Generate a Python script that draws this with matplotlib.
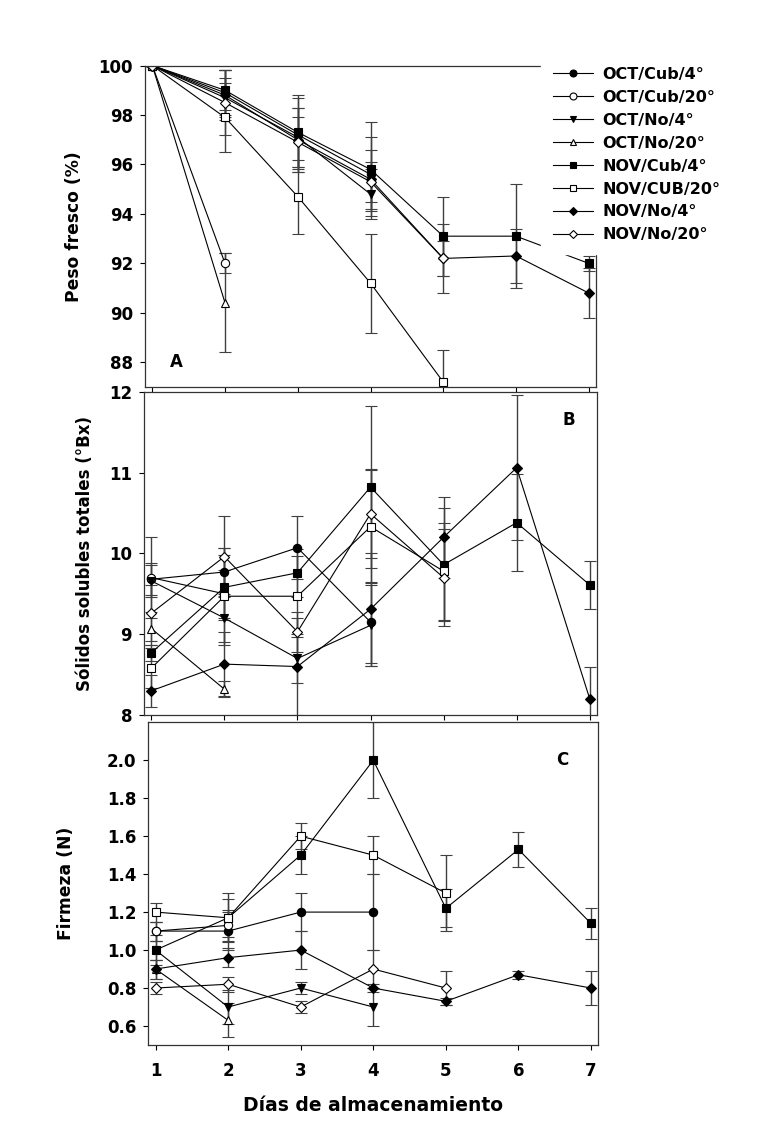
import numpy as np
import matplotlib
matplotlib.use('Agg')
import matplotlib.pyplot as plt
from matplotlib.lines import Line2D

plt.rcParams['font.family'] = ['DejaVu Sans']
plt.rcParams['font.weight'] = 'bold'

days = [1, 2, 3, 4, 5, 6, 7]
labels = ['OCT/Cub/4°', 'OCT/Cub/20°', 'OCT/No/4°', 'OCT/No/20°',
          'NOV/Cub/4°', 'NOV/CUB/20°', 'NOV/No/4°', 'NOV/No/20°']

# A: peso fresco (%)
peso = [
    [100, 98.9, 97.2, 95.6],
    [100, 92.0],
    [100, 98.7, 97.1, 94.8],
    [100, 90.4],
    [100, 99.0, 97.3, 95.8, 93.1, 93.1, 92.0],
    [100, 97.9, 94.7, 91.2, 87.2],
    [100, 98.8, 97.0, 95.4, 92.2, 92.3, 90.8],
    [100, 98.5, 96.9, 95.3, 92.2],
]
peso_err = [
    [0, 0.9, 1.5, 1.5],
    [0, 0.4],
    [0, 0.8, 1.2, 1.0],
    [0, 2.0],
    [0, 0.8, 1.5, 1.9, 1.6, 2.1, 0.3],
    [0, 1.4, 1.5, 2.0, 1.3],
    [0, 1.0, 1.3, 1.2, 1.4, 1.1, 1.0],
    [0, 1.3, 1.0, 0.8, 0.7],
]

# B: solidos solubles totales (°Bx)
solidos = [
    [9.68, 9.77, 10.07, 9.15],
    [9.70, 9.50],
    [9.66, 9.20, 8.70, 9.11],
    [9.07, 8.32],
    [8.77, 9.58, 9.76, 10.82, 9.86, 10.38, 9.61],
    [8.58, 9.47, 9.47, 10.33, 9.78],
    [8.30, 8.63, 8.60, 9.31, 10.20, 11.06, 8.20],
    [9.26, 9.96, 9.03, 10.49, 9.70],
]
solidos_err = [
    [0.2, 0.3, 0.39, 0.5],
    [0.5, 0.3],
    [0.2, 0.3, 0.3, 0.5],
    [0.2, 0.1],
    [0.1, 0.4, 0.3, 1.0, 0.7, 0.6, 0.3],
    [0.25, 0.6, 0.5, 0.7, 0.6],
    [0.2, 0.4, 0.6, 0.7, 0.5, 0.9, 0.4],
    [0.35, 0.5, 0.25, 0.55, 0.6],
]

# C: firmeza (N)
firmeza = [
    [1.10, 1.10, 1.20, 1.20],
    [1.10, 1.13],
    [1.00, 0.70, 0.80, 0.70],
    [0.90, 0.63],
    [1.00, 1.17, 1.50, 2.00, 1.22, 1.53, 1.14],
    [1.20, 1.17, 1.60, 1.50, 1.30],
    [0.90, 0.96, 1.00, 0.80, 0.73, 0.87, 0.80],
    [0.80, 0.82, 0.70, 0.90, 0.80],
]
firmeza_err = [
    [0.05, 0.1, 0.1, 0.2],
    [0.05, 0.08],
    [0.08, 0.09, 0.03, 0.1],
    [0.05, 0.09],
    [0.05, 0.13, 0.1, 0.2, 0.1, 0.09, 0.08],
    [0.05, 0.1, 0.07, 0.1, 0.2],
    [0.05, 0.05, 0.1, 0.02, 0.02, 0.02, 0.09],
    [0.03, 0.04, 0.03, 0.1, 0.09],
]

markers = ['o', 'o', 'v', '^', 's', 's', 'D', 'D']
faces = ['k', 'w', 'k', 'w', 'k', 'w', 'k', 'w']
msizes = [6, 6, 6, 6, 6, 6, 5, 5]

fig = plt.figure(figsize=(7.78, 11.28), dpi=100)
axA = fig.add_axes([0.1864, 0.6569, 0.5797, 0.2850])
axB = fig.add_axes([0.1851, 0.3661, 0.5823, 0.2866])
axC = fig.add_axes([0.1906, 0.0736, 0.5784, 0.2861])


def draw(ax, data, errs):
    for i in range(len(labels)):
        y = data[i]
        x = days[:len(y)]
        ax.errorbar(x, y, yerr=errs[i], fmt='-', color='k', lw=0.8,
                    marker=markers[i], ms=msizes[i], mfc=faces[i], mec='k',
                    mew=0.8, ecolor='0.25', elinewidth=1.0, capsize=4,
                    capthick=1.0)
    ax.set_xlim(0.9, 7.1)
    ax.set_xticks(days)
    ax.tick_params(direction='out', length=3.6, width=0.8, labelsize=12, pad=5)
    for s in ax.spines.values():
        s.set_linewidth(0.9)
        s.set_color('0.2')


draw(axA, peso, peso_err)
axA.set_ylim(87, 100)
axA.set_yticks([88, 90, 92, 94, 96, 98, 100])
axA.set_xticklabels([])
axA.set_ylabel('Peso fresco (%)', fontsize=12.3, fontweight='bold')
axA.yaxis.set_label_coords(-0.137, 0.5)
axA.text(1.33, 88.0, 'A', fontsize=12, fontweight='bold', va='center', ha='center')

draw(axB, solidos, solidos_err)
axB.set_ylim(8, 12)
axB.set_yticks([8, 9, 10, 11, 12])
axB.set_xticklabels([])
axB.set_ylabel('Sólidos solubles totales (°Bx)', fontsize=12, fontweight='bold')
axB.yaxis.set_label_coords(-0.110, 0.5)
axB.text(6.71, 11.65, 'B', fontsize=12, fontweight='bold', va='center', ha='center')

draw(axC, firmeza, firmeza_err)
axC.set_ylim(0.5, 2.2)
axC.set_yticks([0.6, 0.8, 1.0, 1.2, 1.4, 1.6, 1.8, 2.0])
axC.set_yticklabels(['%.1f' % v for v in axC.get_yticks()])
axC.set_ylabel('Firmeza (N)', fontsize=12.3, fontweight='bold')
axC.yaxis.set_label_coords(-0.162, 0.5)
axC.set_xlabel('Días de almacenamiento', fontsize=13.5, fontweight='bold', labelpad=11)
axC.tick_params(axis='x', pad=9)
axC.text(6.6, 2.0, 'C', fontsize=12, fontweight='bold', va='center', ha='center')

handles = [Line2D([], [], color='k', lw=0.8, marker=markers[i], ms=msizes[i] - 1,
                  mfc=faces[i], mec='k', mew=0.8) for i in range(len(labels))]
leg = fig.legend(handles, labels, loc='upper left', bbox_to_anchor=(0.695, 0.9516),
                 frameon=True, facecolor='white', edgecolor='white', framealpha=1,
                 fancybox=False, fontsize=11.5, handlelength=2.5, handletextpad=0.6,
                 labelspacing=0.5, borderpad=0.75, borderaxespad=0)
for t in leg.get_texts():
    t.set_fontweight('bold')

fig.savefig('out.png', dpi=100)
